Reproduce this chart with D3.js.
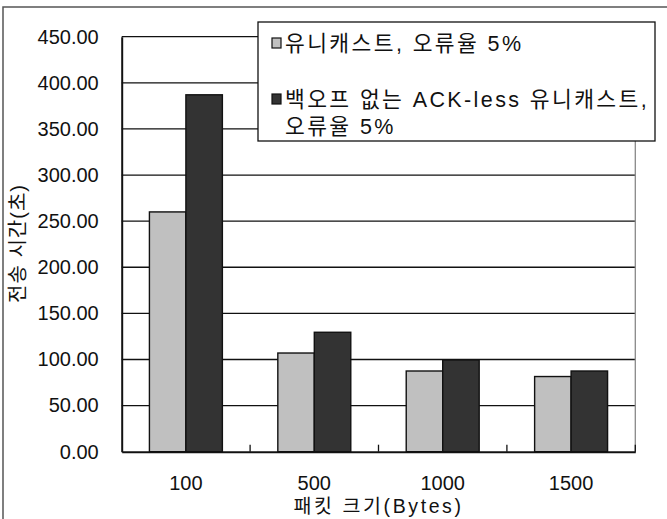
<!DOCTYPE html>
<html>
<head>
<meta charset="utf-8">
<script src="https://cdn.jsdelivr.net/npm/d3@7"></script>
<style>
  html, body { margin: 0; padding: 0; background: #fff; }
  svg { display: block; }
  text { font-family: "Liberation Sans", "Noto Sans CJK KR", sans-serif; fill: #111; }
</style>
</head>
<body>
<svg id="chart" width="667" height="519"></svg>
<script>
// Packet size categories and transmission time (seconds) per scheme
const packetSizes = ["100", "500", "1000", "1500"];
const seriesNames = ["유니캐스트, 오류율 5%", "백오프 없는 ACK-less 유니캐스트, 오류율 5%"];
const unicastTimes = [260, 107, 87.5, 81.5];
const acklessTimes = [387, 129.5, 99.5, 87.5];
const yTicks = [0, 50, 100, 150, 200, 250, 300, 350, 400, 450];
const legendLines = [["유니캐스트, 오류율 5%"], ["백오프 없는 ACK-less 유니캐스트,", "오류율 5%"]];
const seriesColors = ["#c0c0c0", "#333333"];

const series = [unicastTimes, acklessTimes];
const svg = d3.select("#chart");

const plot = { left: 121.7, right: 635.3, top: 36.7, bottom: 451.7 };

// Outer frame
svg.append("path")
  .attr("d", "M3,700 L3,7 L700,7")
  .attr("fill", "none")
  .attr("stroke", "#555")
  .attr("stroke-width", 1.5);

const x0 = d3.scaleBand().domain(packetSizes).range([plot.left, plot.right]).padding(0);
const x1 = d3.scaleBand().domain(d3.range(series.length))
  .range([0, x0.bandwidth()]).paddingInner(0).paddingOuter(0.76);
const y = d3.scaleLinear().domain([0, 450]).range([plot.bottom, plot.top]);

// Horizontal gridlines
svg.append("g").selectAll("line")
  .data(yTicks.filter(d => d > 0))
  .join("line")
  .attr("x1", plot.left).attr("x2", plot.right)
  .attr("y1", d => y(d)).attr("y2", d => y(d))
  .attr("stroke", "#111").attr("stroke-width", 1.3);

// Right border of the plot area
svg.append("line")
  .attr("x1", plot.right).attr("x2", plot.right)
  .attr("y1", y(450)).attr("y2", y(0))
  .attr("stroke", "#888").attr("stroke-width", 1.3);

// Bars
const groups = svg.append("g").selectAll("g")
  .data(packetSizes)
  .join("g")
  .attr("transform", d => `translate(${x0(d)},0)`);

groups.selectAll("rect")
  .data((d, i) => series.map((s, k) => ({ k, v: s[i] })))
  .join("rect")
  .attr("x", d => x1(d.k))
  .attr("width", x1.bandwidth())
  .attr("y", d => y(d.v))
  .attr("height", d => y(0) - y(d.v))
  .attr("fill", d => seriesColors[d.k])
  .attr("stroke", "#111")
  .attr("stroke-width", 1.4);

// Category boundary ticks on the baseline
svg.append("g").selectAll("line")
  .data(packetSizes)
  .join("line")
  .attr("x1", d => x0(d) + x0.step()).attr("x2", d => x0(d) + x0.step())
  .attr("y1", y(0)).attr("y2", y(0) - 7)
  .attr("stroke", "#111").attr("stroke-width", 1.3);

// Y axis
const yAxis = svg.append("g")
  .attr("transform", `translate(${plot.left},0)`)
  .call(d3.axisLeft(y).tickValues(yTicks).tickFormat(d3.format(".2f")).tickSize(0).tickPadding(23));
yAxis.select(".domain").attr("stroke", "#111").attr("stroke-width", 2);
yAxis.selectAll("text").style("font-size", "20px").attr("fill", "#222");

// X axis
const xAxis = svg.append("g")
  .attr("transform", `translate(0,${plot.bottom})`)
  .call(d3.axisBottom(x0).tickSize(0).tickPadding(24));
xAxis.select(".domain").attr("stroke", "#111").attr("stroke-width", 2);
xAxis.selectAll("text").style("font-size", "20px").attr("fill", "#222");

// Axis titles
svg.append("text")
  .attr("x", (plot.left + plot.right) / 2)
  .attr("y", 513)
  .attr("text-anchor", "middle")
  .style("font-size", "19.5px")
  .style("letter-spacing", "2.6px")
  .text("패킷 크기(Bytes)");

svg.append("text")
  .attr("transform", "translate(17.5,243.5) rotate(-90)")
  .attr("text-anchor", "middle")
  .attr("dy", "0.35em")
  .style("font-size", "20px")
  .style("letter-spacing", "1px")
  .text("전송 시간(초)");

// Legend
const legend = svg.append("g");
legend.append("rect")
  .attr("x", 258).attr("y", 22).attr("width", 397).attr("height", 119)
  .attr("fill", "#fff").attr("stroke", "#111").attr("stroke-width", 1.3);

const rowY = [43, 99];
legendLines.forEach((lines, k) => {
  legend.append("rect")
    .attr("x", 272).attr("y", rowY[k] - 5).attr("width", 9).attr("height", 10)
    .attr("fill", seriesColors[k]).attr("stroke", "#111").attr("stroke-width", 1.2);
  lines.forEach((ln, j) => {
    legend.append("text")
      .attr("x", 285).attr("y", rowY[k] + j * 27)
      .attr("dy", "0.35em")
      .style("font-size", "21.5px")
      .style("letter-spacing", "2.4px")
      .text(ln);
  });
});
</script>
</body>
</html>
